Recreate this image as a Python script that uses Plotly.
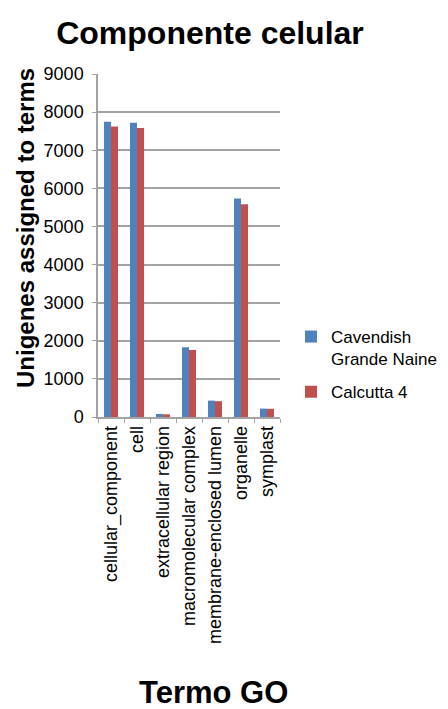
import plotly.graph_objects as go

categories = ["cellular_component", "cell", "extracellular region", "macromolecular complex",
              "membrane-enclosed lumen", "organelle", "symplast"]
cavendish = [7750, 7720, 80, 1830, 430, 5730, 220]
calcutta = [7620, 7580, 70, 1760, 415, 5580, 215]
y_ticks = [0, 1000, 2000, 3000, 4000, 5000, 6000, 7000, 8000, 9000]

FONT = "Liberation Sans, Arial, Helvetica, sans-serif"
GRID = "#a3a3a3"
# page body has an 8px margin; figure is sized so it fills the 448x709 window
W, H = 440, 701
OFF = 8
plot_l, plot_r, plot_t, plot_b = 98 - OFF, 280 - OFF, 74 - OFF, 417 - OFF
pw = plot_r - plot_l
ph = plot_b - plot_t

fig = go.Figure()
fig.add_trace(go.Bar(x=categories, y=cavendish, name="Cavendish<br>Grande Naine",
                     legendgroup="a",
                     marker=dict(color="#4F81BD", line=dict(width=0))))
fig.add_trace(go.Bar(x=categories, y=calcutta, name="Calcutta 4",
                     legendgroup="b",
                     marker=dict(color="#C0504D", line=dict(width=0))))

fig.update_layout(
    width=W, height=H,
    margin=dict(l=plot_l, r=W - plot_r, t=plot_t, b=H - plot_b, autoexpand=False),
    paper_bgcolor="white", plot_bgcolor="white",
    font=dict(family=FONT, color="black"),
    barmode="group", bargap=0.46, bargroupgap=0,
    title=dict(text="<b>Componente celular</b>", x=(210 - OFF) / W, xanchor="center",
               xref="container", y=1 - (33 - OFF) / H, yanchor="middle",
               yref="container", font=dict(size=32, family=FONT, color="black")),
    legend=dict(x=(291 - 98) / pw, xanchor="left", y=(417 - 319) / ph, yanchor="top",
                font=dict(size=17, family=FONT, color="black"),
                bgcolor="rgba(0,0,0,0)", tracegroupgap=8, itemwidth=30, valign="top"),
    showlegend=True,
)

fig.update_yaxes(range=[0, 9000], tickvals=y_ticks, ticktext=[str(v) for v in y_ticks],
                 showgrid=True, gridcolor=GRID, gridwidth=1.5,
                 showline=True, linecolor=GRID, linewidth=1.5,
                 ticks="outside", ticklen=4, tickcolor=GRID,
                 ticklabelstandoff=5,
                 tickfont=dict(size=18, family=FONT, color="black"),
                 zeroline=False)
fig.update_xaxes(type="category", tickangle=-90, showline=True, linecolor=GRID, linewidth=1.5,
                 ticks="outside", tickson="boundaries", ticklen=4, tickcolor=GRID,
                 tickfont=dict(size=18, family=FONT, color="black"),
                 showgrid=False)

# y-axis title (placed as in the reference, slightly above the plot centre)
fig.add_annotation(text="<b>Unigenes assigned to terms</b>", textangle=-90,
                   x=-(98 - 25) / pw, xref="paper", xanchor="center",
                   y=(417 - 228) / ph, yref="paper", yanchor="middle", showarrow=False,
                   font=dict(size=24, family=FONT, color="black"))
# x-axis title
fig.add_annotation(text="<b>Termo GO</b>", x=(213 - 98) / pw, xref="paper", xanchor="center",
                   y=-(692 - 417) / ph, yref="paper", yanchor="middle", showarrow=False,
                   font=dict(size=31, family=FONT, color="black"))

fig.write_html("out.html")
